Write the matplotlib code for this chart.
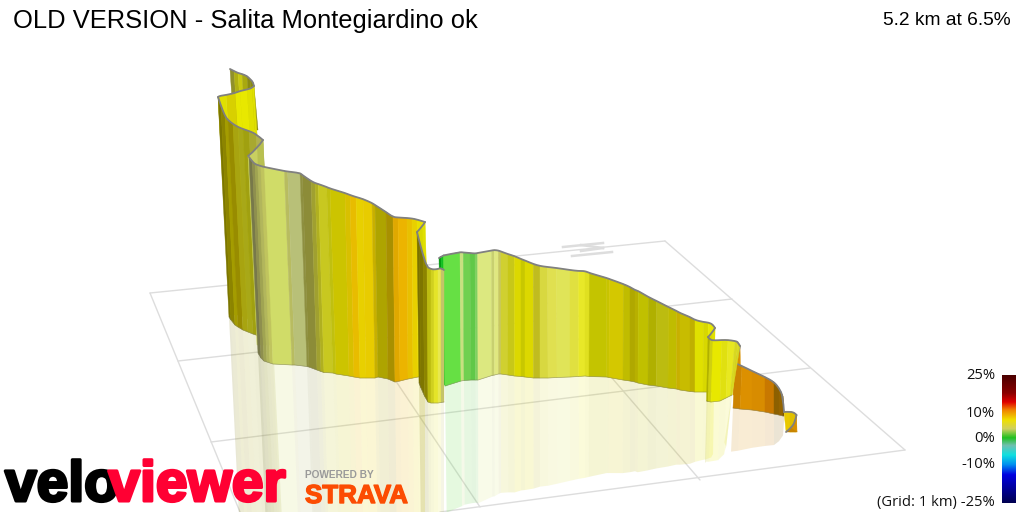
import numpy as np
import matplotlib
matplotlib.use('Agg')
import matplotlib.pyplot as plt
import matplotlib.patheffects as pe
from matplotlib.collections import PolyCollection
from matplotlib.colors import LinearSegmentedColormap
from matplotlib.patches import PathPatch
from matplotlib.path import Path

#--texts
title = 'OLD VERSION - Salita Montegiardino ok'
summary = '5.2 km at 6.5%'
cbar_labels = ['25%', '10%', '0%', '-10%', '(Grid: 1 km) -25%']
cbar_label_y = [379, 417, 442, 468, 506]

#--colour scale, stop position from top of bar to bottom
cbar_stops = [0.0, 0.14, 0.21, 0.27, 0.35, 0.42, 0.49, 0.55, 0.625, 0.70, 0.78, 1.0]
cbar_colours = ['#4a0000', '#8a0000', '#e00000', '#f08000', '#f0e000', '#d0d060',
                '#20c020', '#70c0b0', '#10e0e0', '#0090f0', '#0000e0', '#000050']

#--grid on the ground, every line is [x0, y0, x1, y1]
grid_lines = [[150, 293, 665, 241], [178, 361, 732, 299], [211, 442, 810, 368],
              [440, 512, 905, 450], [150, 293, 240, 512], [325, 275, 480, 507],
              [505, 254, 700, 480], [665, 241, 905, 450]]
north_lines = [[563, 247, 603, 243], [572, 256, 612, 252], [581, 245, 603, 248], [603, 248, 581, 251]]

#--ribbon panels from the back to the front
a_top_x = [230, 234, 238, 242, 247, 250, 253, 254]
a_top_y = [69, 71, 73, 74, 76, 79, 82, 86]
a_bot_x = [234, 238, 242, 246, 251, 254, 257, 258]
a_bot_y = [130, 130, 130, 130, 130, 130, 130, 130]
a_colours = ['#90902a', '#b0b010', '#c8c810', '#a8a810', '#8a8a10', '#8a8a10', '#8a8a10']

b_top_x = [254, 252, 247, 240, 235, 226, 219, 218]
b_top_y = [86, 88, 89.5, 91, 93, 95, 96, 97]
b_bot_x = [269, 267, 262, 255, 250, 240, 232, 230]
b_bot_y = [320, 320, 320, 320, 320, 315, 315, 315]
b_colours = ['#e0e000', '#e0e000', '#e8e800', '#e8e800', '#d8d000', '#e0e000', '#d8d800']

b2_top_x = [218, 221, 225, 228, 233, 238, 243, 249, 256, 263]
b2_top_y = [97, 106, 116, 120, 124, 127, 129, 131, 134, 140]
b2_bot_x = [229, 231, 235, 238, 243, 248, 253, 259, 266, 273]
b2_bot_y = [317, 320, 325, 327, 330, 332, 334, 336, 338, 340]
b2_colours = ['#7c7600', '#8c8400', '#a49c00', '#988c00', '#a8a410', '#a8a818',
              '#a0a010', '#a8a830', '#b0b050']

cf_top_x = [263, 257, 248]
cf_top_y = [140, 149, 156]
cf_bot_x = [272, 266, 257]
cf_bot_y = [345, 345, 345]
cf_colours = ['#b8c050', '#c8d060']

c_top_x = [249, 252.3, 255, 257.7, 260.7, 264.3, 284.3, 287.7, 300, 302.3, 311, 315, 318.3, 326.7,
           330, 345, 350, 356, 363, 372, 375, 386, 393, 398, 407, 412, 417, 425]
c_top_y = [157, 161.5, 164, 165, 166, 167, 171, 171.5, 173, 175, 181, 183, 184, 187,
           188.5, 193, 195, 197, 199, 203, 205, 212, 217, 217.5, 218, 218.5, 219.5, 222]
c_bot_x = [258, 261, 264, 267, 270, 273, 292, 295, 307, 309, 317, 321, 324, 333,
           336, 349, 354, 360, 366, 375, 378, 388, 395, 400, 408, 413, 418, 425]
c_bot_y = [353, 358, 361, 362, 363, 364, 365, 365, 366.5, 367, 370, 371.5, 372.5, 373,
           374, 376, 377, 378, 378, 378, 377, 379, 382, 381, 379, 378, 377, 376]
c_colours = ['#77784a', '#8e8f4e', '#a0a452', '#b2b65c', '#c0c45e', '#d0dc68', '#b8bc60', '#b8c078',
             '#8e9040', '#8c8c38', '#a0a030', '#b0b020', '#c8c820', '#c0c010', '#ccc400', '#d8c000',
             '#e8bc00', '#e8d000', '#e8cc00', '#c8b000', '#aea400', '#a89000', '#e0a800', '#ecb400',
             '#e8c000', '#e8d000', '#e8e000']

df_top_x = [425, 422, 417]
df_top_y = [222, 227, 232]
df_bot_x = [430, 428, 422]
df_bot_y = [380, 380, 380]
df_colours = ['#e0e000', '#d8d800']

eg_top_x = [439, 441, 444]
eg_top_y = [258, 256.5, 255.5]
eg_bot_x = [441, 443, 446]
eg_bot_y = [384, 384, 386]
eg_colours = ['#009a10', '#10c020']

d_top_x = [417, 419, 423, 427, 431, 434, 438, 441, 444]
d_top_y = [232, 240, 255, 267, 269, 269.5, 269, 268, 270]
d_bot_x = [419, 421, 424.5, 428, 431, 434, 438, 441, 444]
d_bot_y = [383, 388, 396, 402, 403, 403, 403, 402.5, 402]
d_colours = ['#7a7000', '#7e7600', '#8c8400', '#bcbc10', '#d0d020', '#e4e428', '#e8e850', '#c4c468']

e_top_x = [443.3, 460, 463.3, 470, 475, 477.7, 491.7, 494.3, 498.3, 501, 507.7, 514.3, 521, 525,
           533.3, 540, 547.7, 556.7, 570, 578.3, 585, 589.3, 606.7, 609.3, 623.3, 630, 635, 638.3,
           648.3, 656.7, 668.3, 676.7, 680, 690, 695, 703.3, 708.3, 713, 715]
e_top_y = [255.5, 252, 252.5, 253, 253.5, 253, 250.5, 250, 250.5, 251.5, 254, 256, 259, 260.5,
           264, 266, 267, 268, 270, 271, 271, 273, 278, 279, 284, 287, 290, 291,
           297, 301, 307, 311, 313, 317, 320, 322, 322.5, 324.5, 328]
e_bot_x = [445, 461, 464, 471, 475.5, 478, 492, 494.5, 498.5, 501, 508, 514.5, 521, 525,
           533.5, 540, 548, 557, 570, 578.5, 585, 589, 606.7, 609, 623, 630, 635, 638,
           648, 656.5, 668, 676.5, 680, 690, 695, 703, 707, 712, 714]
e_bot_y = [386, 381, 380.5, 380, 380, 380, 375.5, 375, 374, 374, 375, 376, 376.5, 377,
           378, 378, 378, 377.5, 377, 376.5, 376, 376.5, 377, 377.5, 380, 381, 382, 383,
           385, 386, 388, 389, 390, 391.5, 392, 392, 392, 392, 392]
e_colours = ['#66e044', '#c8e080', '#70d050', '#60c848', '#80d060', '#dce880', '#c8d070', '#e0e880',
             '#c8c860', '#d0d030', '#c8c818', '#dcd800', '#c8c800', '#dcd800', '#c0bc20', '#d8d840',
             '#e0e050', '#e0e458', '#e0e040', '#e8e828', '#e0e020', '#c4c400', '#c8c400', '#d4c800',
             '#c0bc00', '#b0a800', '#b8b000', '#c0c000', '#b0b000', '#bcbc10', '#c0bc00', '#c8b000',
             '#c8bc00', '#c0b000', '#e0e000', '#d8d800', '#e8e800', '#e8e800']

ff_top_x = [715, 712, 708]
ff_top_y = [328, 333, 337]
ff_bot_x = [714, 711, 707]
ff_bot_y = [380, 380, 380]
ff_colours = ['#e0e000', '#d8d800']

of_top_x = [740, 738, 735]
of_top_y = [346, 355, 363]
of_bot_x = [741, 738, 733]
of_bot_y = [395, 395, 395]
of_colours = ['#d89000', '#d89000']

o_top_x = [735, 742, 752, 765, 774, 779, 783, 784]
o_top_y = [363, 366, 371, 377, 382, 388, 396, 412]
o_bot_x = [733, 740, 752, 765, 774, 779, 783, 784]
o_bot_y = [408, 409, 410, 412, 414, 415, 416, 416]
o_colours = ['#cc8400', '#dc9000', '#d88c00', '#c87800', '#8c6000', '#946400', '#7c5400']

f_top_x = [708, 710, 713, 722, 728, 735, 738, 740]
f_top_y = [337, 339.5, 340.5, 340, 340, 341, 342, 346]
f_bot_x = [706.5, 708, 711, 720, 726, 730, 732, 732]
f_bot_y = [401, 401.5, 402, 401, 398, 396, 395, 395]
f_colours = ['#b0b000', '#d0d010', '#e8e800', '#e0e010', '#e8e820', '#d8d820', '#d8d820']

g_top_x = [784, 790, 795, 796.5]
g_top_y = [412, 411.5, 413, 415]
g_bot_x = [786, 790, 795, 796]
g_bot_y = [431, 432, 432, 432]
g_colours = ['#e8c800', '#e0c000', '#dcb400']

h_top_x = [796.5, 795, 791, 786]
h_top_y = [415, 422, 428, 432]
h_bot_x = [797, 797, 797, 797]
h_bot_y = [431, 431.5, 432, 432]
h_colours = ['#d89000', '#d89000', '#c88400']

#--hidden panels have no reflection of their own
panels = [(a_top_x, a_top_y, a_bot_x, a_bot_y, a_colours, False),
          (b_top_x, b_top_y, b_bot_x, b_bot_y, b_colours, False),
          (b2_top_x, b2_top_y, b2_bot_x, b2_bot_y, b2_colours, True),
          (cf_top_x, cf_top_y, cf_bot_x, cf_bot_y, cf_colours, False),
          (c_top_x, c_top_y, c_bot_x, c_bot_y, c_colours, True),
          (df_top_x, df_top_y, df_bot_x, df_bot_y, df_colours, False),
          (eg_top_x, eg_top_y, eg_bot_x, eg_bot_y, eg_colours, False),
          (e_top_x, e_top_y, e_bot_x, e_bot_y, e_colours, True),
          (d_top_x, d_top_y, d_bot_x, d_bot_y, d_colours, True),
          (ff_top_x, ff_top_y, ff_bot_x, ff_bot_y, ff_colours, False),
          (of_top_x, of_top_y, of_bot_x, of_bot_y, of_colours, False),
          (o_top_x, o_top_y, o_bot_x, o_bot_y, o_colours, True),
          (f_top_x, f_top_y, f_bot_x, f_bot_y, f_colours, True),
          (g_top_x, g_top_y, g_bot_x, g_bot_y, g_colours, False),
          (h_top_x, h_top_y, h_bot_x, h_bot_y, h_colours, False)]

fig = plt.figure(figsize=(10.24, 5.12), dpi=100)
ax = fig.add_axes([0, 0, 1, 1])


def strips(x0, y0, x1, y1):
    #--one quad for every stripe between two neighbouring knots
    return [[(x0[i], y0[i]), (x0[i + 1], y0[i + 1]), (x1[i + 1], y1[i + 1]), (x1[i], y1[i])]
            for i in range(len(x0) - 1)]


def rounded(x, y):
    #--quadratic curves through the knots, the mid points are the joins
    verts, codes = [(x[0], y[0])], [Path.MOVETO]
    for i in range(1, len(x) - 1):
        verts.append((x[i], y[i]))
        codes.append(Path.CURVE3)
        if i < len(x) - 2:
            verts.append(((x[i] + x[i + 1]) / 2, (y[i] + y[i + 1]) / 2))
        else:
            verts.append((x[i + 1], y[i + 1]))
        codes.append(Path.CURVE3)
    return Path(verts, codes)


for x0, y0, x1, y1 in grid_lines:
    ax.plot([x0, x1], [y0, y1], color='#dddddd', lw=1.0, solid_capstyle='round', zorder=1)
for x0, y0, x1, y1 in north_lines:
    ax.plot([x0, x1], [y0, y1], color='#dddddd', lw=1.8, zorder=1)

#--reflection on the ground, mirrored below the foot of the wall
for top_x, top_y, bot_x, bot_y, colours, mirrored in panels:
    if mirrored:
        tx, ty, bx, by = map(np.array, (top_x, top_y, bot_x, bot_y))
        refl_x = bx + 0.97 * (bx - tx)
        refl_y = by + 0.97 * (by - ty)
        ax.add_collection(PolyCollection(strips(bot_x, bot_y, refl_x, refl_y), facecolors=colours,
                                         edgecolors='none', alpha=0.17, zorder=2))

#--the wall itself
z = 3
for top_x, top_y, bot_x, bot_y, colours, mirrored in panels:
    ax.add_collection(PolyCollection(strips(top_x, top_y, bot_x, bot_y), facecolors=colours,
                                     edgecolors=colours, linewidths=0.3, zorder=z))
    if mirrored:
        ax.plot(bot_x, bot_y, color='#777755', lw=0.5, alpha=0.6, zorder=z + 0.1)
    ax.add_patch(PathPatch(rounded(top_x, top_y), fill=False, edgecolor='#808080', lw=1.3,
                           capstyle='round', zorder=z + 0.2))
    z += 1

#--colour bar
grad = np.linspace(0, 1, 256)[:, None]
cmap = LinearSegmentedColormap.from_list('grad', list(zip(cbar_stops, cbar_colours)))
ax.imshow(grad, cmap=cmap, aspect='auto', extent=[1002, 1016, 503, 375], zorder=30)
for lab, y in zip(cbar_labels, cbar_label_y):
    ax.text(995, y, lab, ha='right', va='baseline', family='Open Sans', fontsize=10.6, color='#111111', zorder=31)

#--texts at the top
ax.text(13, 28, title, ha='left', va='baseline', family='Liberation Sans', fontsize=18.37, color='black', zorder=31)
ax.text(1011, 25, summary, ha='right', va='baseline', family='Liberation Sans', fontsize=13.75, color='black', zorder=31)

#--logo
ax.text(5, 501, 'velo', ha='left', va='baseline', family='Liberation Sans', weight='bold', fontsize=41,
        color='black', zorder=32, path_effects=[pe.withStroke(linewidth=2.2, foreground='black')])
ax.text(286, 501, 'viewer', ha='right', va='baseline', family='Liberation Sans', weight='bold', fontsize=41,
        color='#ff0033', zorder=33, path_effects=[pe.withStroke(linewidth=2.2, foreground='#ff0033')])
ax.text(305, 478, 'POWERED BY', ha='left', va='baseline', family='Liberation Sans', weight='bold', fontsize=7.3,
        color='#9a9a9a', zorder=32)
ax.text(305, 503, 'STRAVA', ha='left', va='baseline', family='Liberation Sans', weight='bold', fontsize=18.7,
        color='#fc4c02', zorder=32, path_effects=[pe.withStroke(linewidth=1, foreground='#fc4c02')])

ax.set_xlim(0, 1024)
ax.set_ylim(512, 0)
ax.axis('off')
fig.savefig('out.png', dpi=100)
